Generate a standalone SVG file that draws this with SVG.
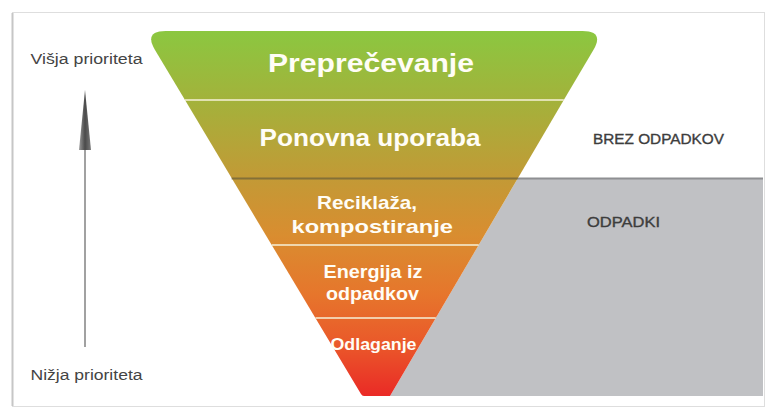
<svg xmlns="http://www.w3.org/2000/svg" width="769" height="410" viewBox="0 0 769 410">
  <defs>
    <linearGradient id="funnelGrad" gradientUnits="userSpaceOnUse" x1="0" y1="31" x2="0" y2="396">
      <stop offset="0" stop-color="#8bc740"/>
      <stop offset="0.19" stop-color="#a3b23b"/>
      <stop offset="0.4" stop-color="#c29a36"/>
      <stop offset="0.56" stop-color="#d98d30"/>
      <stop offset="0.72" stop-color="#e6762c"/>
      <stop offset="0.86" stop-color="#ea582a"/>
      <stop offset="1" stop-color="#ea2a26"/>
    </linearGradient>
    <linearGradient id="headGrad" x1="0" y1="0" x2="1" y2="0">
      <stop offset="0" stop-color="#9a9a9a"/>
      <stop offset="0.5" stop-color="#4a4a4a"/>
      <stop offset="1" stop-color="#7a7a7a"/>
    </linearGradient>
    <style>
      .band { fill: url(#funnelGrad); }
      .lvl { font-family: "Liberation Sans", Arial, sans-serif; font-weight: bold; fill: #fffdf6; }
      .side { font-family: "Liberation Sans", Arial, sans-serif; fill: #444444; font-size: 14px; }
      .zone { font-family: "Liberation Sans", Arial, sans-serif; fill: #3d3d3d; font-size: 14.5px; stroke: #3d3d3d; stroke-width: 0.35; }
      .sep { stroke: #f6f0d8; stroke-width: 1.5; fill: none; }
    </style>
  </defs>

  <rect x="0" y="0" width="769" height="410" fill="#ffffff"/>
  <!-- frame -->
  <rect x="12.5" y="12.5" width="752" height="394" fill="#ffffff" stroke="#dedede" stroke-width="1"/>
  <line x1="12.5" y1="13" x2="12.5" y2="406" stroke="#c6c6c6" stroke-width="2"/>

  <!-- grey waste zone -->
  <g id="zone-odpadki">
    <path d="M518,178 L763,178 L763,396 L390,396 Z" fill="#c0c1c4"/>
    <line x1="518" y1="178.5" x2="763" y2="178.5" stroke="#8e8f92" stroke-width="2"/>
    <text class="zone" x="587" y="227" textLength="73" lengthAdjust="spacingAndGlyphs" stroke-width="0.2">ODPADKI</text>
  </g>

  <g id="zone-brez">
    <text class="zone" x="593" y="144" textLength="131" lengthAdjust="spacingAndGlyphs">BREZ ODPADKOV</text>
  </g>

  <!-- funnel levels -->
  <g id="level-preprecevanje">
    <path class="band" d="M155,49.9 Q143.7,31 165.7,31 L582.5,31 Q604.5,31 593.4,50 L563.8,100 L185,100 Z"/>
    <text class="lvl" x="268" y="72" font-size="26" textLength="206" lengthAdjust="spacingAndGlyphs">Preprečevanje</text>
  </g>
  <g id="level-ponovna-uporaba">
    <path class="band" d="M185,100 L563.8,100 L518,178 L231.6,178 Z"/>
    <text class="lvl" x="259.5" y="146" font-size="24.5" textLength="221" lengthAdjust="spacingAndGlyphs">Ponovna uporaba</text>
  </g>
  <g id="level-reciklaza">
    <path class="band" d="M231.6,178 L518,178 L478.7,245 L271.7,245 Z"/>
    <text class="lvl" x="317" y="209" font-size="18.5" textLength="100" lengthAdjust="spacingAndGlyphs">Reciklaža,</text>
    <text class="lvl" x="291.5" y="233" font-size="18.5" textLength="161.5" lengthAdjust="spacingAndGlyphs">kompostiranje</text>
  </g>
  <g id="level-energija">
    <path class="band" d="M271.7,245 L478.7,245 L435.8,318 L315.4,318 Z"/>
    <text class="lvl" x="323.5" y="277.5" font-size="17.5" textLength="99" lengthAdjust="spacingAndGlyphs">Energija iz</text>
    <text class="lvl" x="326" y="300" font-size="17.5" textLength="93" lengthAdjust="spacingAndGlyphs">odpadkov</text>
  </g>
  <g id="level-odlaganje">
    <path class="band" d="M315.4,318 L435.8,318 L390,396 L364,396 Q362,396 361,394 Z"/>
    <text class="lvl" x="330.5" y="350" font-size="16.5" textLength="86" lengthAdjust="spacingAndGlyphs">Odlaganje</text>
  </g>

  <!-- separators -->
  <g id="separators">
    <line class="sep" x1="185" y1="100" x2="563.8" y2="100"/>
    <line x1="231.6" y1="178.5" x2="518" y2="178.5" stroke="#5a5538" stroke-opacity="0.6" stroke-width="2"/>
    <line class="sep" x1="271.7" y1="245" x2="478.7" y2="245" stroke="#f8e2c8"/>
    <line class="sep" x1="315.4" y1="318" x2="435.8" y2="318" stroke="#f8d8c4"/>
  </g>

  <!-- side labels -->
  <g id="label-visja">
    <text class="side" x="30.5" y="64" textLength="112" lengthAdjust="spacingAndGlyphs">Višja prioriteta</text>
  </g>
  <g id="label-nizja">
    <text class="side" x="30.5" y="379.5" textLength="112" lengthAdjust="spacingAndGlyphs">Nižja prioriteta</text>
  </g>

  <!-- connectors -->
  <g id="connectors">
    <line x1="85" y1="148" x2="85" y2="347" stroke="#8a8a8a" stroke-width="1.6"/>
    <polygon points="85,90 91,150 79,150" fill="url(#headGrad)"/>
  </g>
</svg>
